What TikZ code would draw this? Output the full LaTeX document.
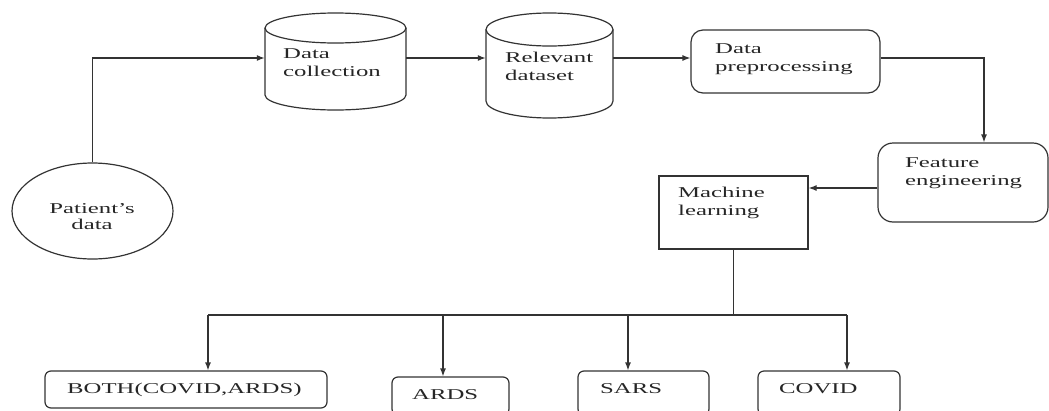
\documentclass[tikz,border=0pt]{standalone}
\usepackage{fontspec}
\setmainfont[FakeStretch=1.65]{Liberation Serif}
\usetikzlibrary{arrows.meta,calc,shapes.geometric}
\begin{document}
\begin{tikzpicture}[x=1pt,y=-1pt,
  ln/.style={line width=1.2pt,draw=black!80},
  arr/.style={ln,-{Latex[length=8pt,width=6pt]}},
  txt/.style={font=\fontsize{15}{18}\selectfont,text=black!85,inner sep=0pt,align=left},
  rbox/.style={ln,rectangle,inner sep=0pt},
  hold/.style={rectangle,inner sep=0pt}]
\useasboundingbox (0,0) rectangle (1049,410);
% patient's data
\node[ellipse,ln,inner sep=0pt,minimum width=161pt,minimum height=96pt] (pd) at (92.5,211) {};
\node[txt,align=center,anchor=north] (pdt) at (92,203) {Patient's\\[-2pt]data};
% data collection cylinder
\node[hold,minimum width=141pt,minimum height=90pt] (dc) at (335.5,58) {};
\draw[ln] (265,28) -- (265,95) arc[start angle=180,end angle=0,x radius=70.5,y radius=15] -- (406,28);
\draw[ln] (335.5,28) ellipse[x radius=70.5,y radius=15];
\node[txt,anchor=north west] (dct) at (283,48.5) {Data\\collection};
% relevant dataset cylinder
\node[hold,minimum width=127pt,minimum height=90pt] (rd) at (549.5,58) {};
\draw[ln] (486,29.5) -- (486,101) arc[start angle=180,end angle=0,x radius=63.5,y radius=17] -- (613,29.5);
\draw[ln] (549.5,29.5) ellipse[x radius=63.5,y radius=16.5];
\node[txt,anchor=north west] (rdt) at (505,52) {Relevant\\dataset};
% data preprocessing
\node[rbox,rounded corners=12pt,minimum width=189pt,minimum height=63pt] (dp) at (785.5,61.5) {};
\node[txt,anchor=north west] (dpt) at (715,43) {Data\\preprocessing};
% feature engineering
\node[rbox,rounded corners=15pt,minimum width=170pt,minimum height=79pt] (fe) at (963,182.5) {};
\node[txt,anchor=north west] (fet) at (905,157) {Feature\\engineering};
% machine learning
\node[rbox,minimum width=149pt,minimum height=73pt] (ml) at (733.5,212.5) {};
\node[txt,anchor=north west] (mlt) at (678,187) {Machine\\learning};
% outputs
\node[rbox,rounded corners=6pt,minimum width=282pt,minimum height=37pt] (bo) at (186,389.5) {};
\node[txt,anchor=north west] (bot) at (67,383) {BOTH(COVID,ARDS)};
\node[rbox,rounded corners=6pt,minimum width=117pt,minimum height=38pt] (ar) at (450.5,396) {};
\node[txt,anchor=north west] (art) at (412,389) {ARDS};
\node[rbox,rounded corners=6pt,minimum width=131pt,minimum height=44pt] (sa) at (643.5,393) {};
\node[txt,anchor=north west] (sat) at (600,383) {SARS};
\node[rbox,rounded corners=6pt,minimum width=142pt,minimum height=44pt] (co) at (829,393) {};
\node[txt,anchor=north west] (cot) at (779,383) {COVID};
% helper coordinates
\coordinate (k1) at (984,58);
\coordinate (k2) at (0,188);
\coordinate (k3) at (0,315);
\coordinate (a1) at (208,315);
\coordinate (a2) at (443,315);
\coordinate (a3) at (628,315);
\coordinate (a4) at (847,315);
% connectors
\draw[arr] (pd.north) |- (dc.west);
\draw[arr] (dc.east) -- (rd.west);
\draw[arr] (rd.east) -- (rd.east -| dp.west);
\draw[arr] (rd.east -| dp.east) -| (fe.north -| k1);
\draw[arr] (fe.west |- k2) -- (ml.east |- k2);
\draw[ln] (ml.south) -- (ml.south |- k3);
\draw[ln] (a1) -- (a4);
\draw[arr] (a1) -- (a1 |- bo.north);
\draw[arr] (a2) -- (a2 |- ar.north);
\draw[arr] (a3) -- (a3 |- sa.north);
\draw[arr] (a4) -- (a4 |- co.north);
\end{tikzpicture}
\end{document}
